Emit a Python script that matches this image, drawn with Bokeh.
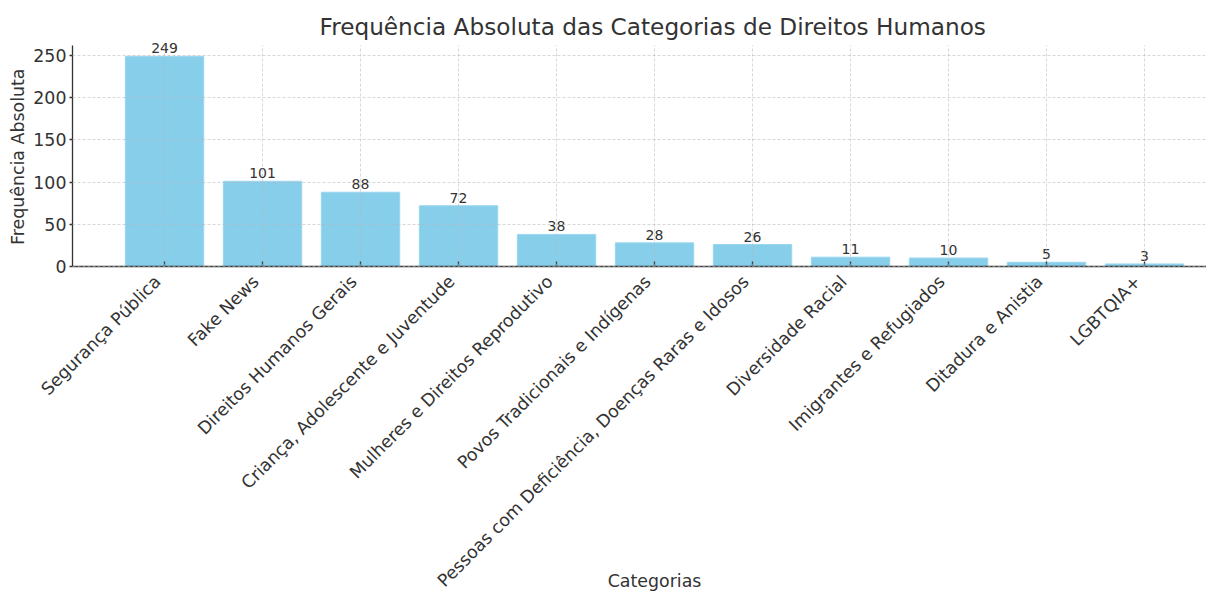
import math
from bokeh.plotting import figure
from bokeh.models import ColumnDataSource, Range1d, FixedTicker, Title, LinearAxis
from bokeh.core.properties import value
from bokeh.embed import file_html
from bokeh.resources import INLINE

categories = [
    "Segurança Pública",
    "Fake News",
    "Direitos Humanos Gerais",
    "Criança, Adolescente e Juventude",
    "Mulheres e Direitos Reprodutivo",
    "Povos Tradicionais e Indígenas",
    "Pessoas com Deficiência, Doenças Raras e Idosos",
    "Diversidade Racial",
    "Imigrantes e Refugiados",
    "Ditadura e Anistia",
    "LGBTQIA+",
]
counts = [249, 101, 88, 72, 38, 28, 26, 11, 10, 5, 3]
y_ticks = [0, 50, 100, 150, 200, 250]
title_text = "Frequência Absoluta das Categorias de Direitos Humanos"
x_label = "Categorias"
y_label = "Frequência Absoluta"

FONT = "DejaVu Sans"
TXT = "#333333"

# layout (canvas pixels)
W, H = 1206, 595
FRAME_LEFT, AXIS_X = 30, 72
FRAME_TOP, AXES_TOP, AXIS_Y = 35, 45, 266
Y_MAX = 261.85                       # value at the top of the axes box
PPY = (AXIS_Y - AXES_TOP) / Y_MAX
Y_START = -(H - AXIS_Y) / PPY
Y_END = Y_MAX + (AXES_TOP - FRAME_TOP) / PPY
X_AXIS_MIN, PPX = -0.939, 98.0
X_START = X_AXIS_MIN - (AXIS_X - FRAME_LEFT) / PPX
X_END = X_AXIS_MIN + (W - AXIS_X) / PPX
LABEL_SHIFT = 0.07

xs = list(range(len(categories)))
src = ColumnDataSource(dict(x=xs, top=counts, lab=[str(c) for c in counts]))

p = figure(
    width=W, height=H,
    output_backend="svg", toolbar_location=None,
    x_range=Range1d(X_START, X_END), y_range=Range1d(Y_START, Y_END),
    min_border_left=FRAME_LEFT, min_border_right=0, min_border_top=FRAME_TOP,
    min_border_bottom=0,
)
p.outline_line_color = None
p.background_fill_color = "white"

p.title = Title(text=title_text, align="left", offset=247 + AXIS_X - FRAME_LEFT)
p.title.text_font = FONT
p.title.text_font_size = "23.2px"
p.title.text_font_style = "normal"
p.title.text_color = TXT
p.title.standoff = -8

p.vbar(x="x", top="top", width=0.8, bottom=0, source=src,
       fill_color="#87CEEB", line_color="#9ad6ef", line_width=1)

p.text(x="x", y="top", text="lab", source=src, text_align="center",
       text_baseline="bottom", y_offset=-3, text_font=value(FONT),
       text_font_size="14px", text_color=TXT)

# x axis: ticks + line at y=0 (inside the frame)
xa = p.xaxis[0]
xa.fixed_location = 0
xa.bounds = (X_AXIS_MIN, X_END)
xa.ticker = FixedTicker(ticks=xs)
xa.major_label_overrides = {i: "" for i in xs}
xa.axis_line_color = TXT
xa.axis_line_width = 1.3
xa.major_tick_line_color = TXT
xa.major_tick_line_width = 1.3
xa.major_tick_in = 5
xa.major_tick_out = 0
xa.minor_tick_line_color = None

# category labels (rotated), via a second axis
lab_ticks = [i - LABEL_SHIFT for i in xs]
la = LinearAxis(
    fixed_location=0,
    ticker=FixedTicker(ticks=lab_ticks),
    major_label_overrides={t: c for t, c in zip(lab_ticks, categories)},
    major_label_orientation=math.pi / 4,
    major_label_standoff=6,
    major_label_text_font=FONT,
    major_label_text_font_size="17.4px",
    major_label_text_color=TXT,
    axis_line_color=None,
    major_tick_line_color=None,
    minor_tick_line_color=None,
)
p.add_layout(la, "below")

# y axis at the left data limit
ya = p.yaxis[0]
ya.fixed_location = X_AXIS_MIN
ya.ticker = FixedTicker(ticks=y_ticks)
ya.bounds = (0, Y_MAX)
ya.major_label_text_font = FONT
ya.major_label_text_font_size = "17.4px"
ya.major_label_text_color = TXT
ya.axis_line_color = TXT
ya.axis_line_width = 1.3
ya.major_tick_line_color = TXT
ya.major_tick_line_width = 1.3
ya.major_tick_in = 0
ya.major_tick_out = 3
ya.major_label_standoff = 3
ya.minor_tick_line_color = None

yt = Title(text=y_label, align="right", offset=23 + AXES_TOP - FRAME_TOP,
           text_font=FONT, text_font_size="17.4px", text_font_style="normal",
           text_color=TXT, standoff=6)
p.add_layout(yt, "left")

for g in (p.xgrid[0], p.ygrid[0]):
    g.grid_line_color = "#b8b8b8"
    g.grid_line_alpha = 0.7
    g.grid_line_dash = "3 2"
    g.grid_line_width = 0.8
    g.level = "annotation"
p.xgrid[0].cross_bounds = (0, Y_MAX)
p.ygrid[0].cross_bounds = (X_AXIS_MIN, X_END)

# x axis title, centred under the axis
p.text(x=[sum(xs) / len(xs)], y=[-(590 - AXIS_Y) / PPY], text=[x_label],
       text_align="center", text_baseline="bottom",
       text_font=value(FONT), text_font_size="17.4px", text_color=TXT)

open("out.html", "w").write(file_html(p, INLINE))
